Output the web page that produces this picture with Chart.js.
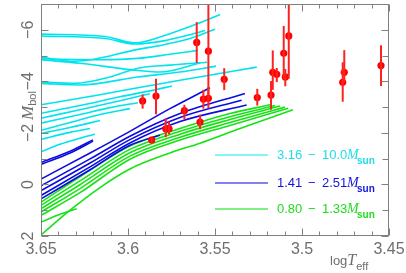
<!DOCTYPE html>
<html>
<head>
<meta charset="utf-8">
<script src="https://cdn.jsdelivr.net/npm/chart.js@4.4.0/dist/chart.umd.min.js"></script>
<style>
  html, body { margin: 0; padding: 0; background: #fff; }
  #wrap { width: 406px; height: 273px; }
</style>
</head>
<body>
<div id="wrap"><canvas id="hr"></canvas></div>
<script>
// axis ticks
const xTicks = [3.65, 3.6, 3.55, 3.5, 3.45];
const xLabels = ['3.65', '3.6', '3.55', '3.5', '3.45'];
const xMinor = [3.64, 3.63, 3.62, 3.61, 3.59, 3.58, 3.57, 3.56, 3.54, 3.53, 3.52, 3.51, 3.49, 3.48, 3.47, 3.46];
const yTicks = [-6, -4, -2, 0, 2];
const yLabels = ['\u22126', '\u22124', '\u22122', '0', '2'];
const yMinor = [-5, -3, -1, 1];

// evolutionary tracks, logTeff and Mbol per track
const cyanT = [
  [3.650, 3.6132, 3.5960, 3.5759, 3.5586, 3.5471],
  [3.650, 3.6132, 3.5960, 3.5787, 3.5644, 3.5557],
  [3.650, 3.6305, 3.5943, 3.5787, 3.5644, 3.5500],
  [3.650, 3.6161, 3.5943, 3.5759, 3.5598],
  [3.650, 3.6276, 3.5943, 3.5816, 3.5586],
  [3.650, 3.6305, 3.6103, 3.5943, 3.5759, 3.5546],
  [3.650, 3.6276, 3.5943, 3.5701, 3.5494],
  [3.650, 3.6161, 3.5943, 3.5701, 3.5260],
  [3.650, 3.6276, 3.6046, 3.5874, 3.5747],
  [3.650, 3.6276, 3.6046, 3.5874],
  [3.650, 3.6276, 3.6103, 3.5943],
  [3.650, 3.6333, 3.6161, 3.5989],
  [3.650, 3.6333, 3.6161],
  [3.650, 3.6333, 3.6218],
  [3.650, 3.6391, 3.6276, 3.6190]
];
const cyanM = [
  [-5.83, -5.74, -5.49, -5.85, -6.27, -6.59],
  [-5.76, -5.66, -5.45, -5.58, -5.81, -5.97],
  [-4.93, -4.78, -5.24, -5.43, -5.66, -6.02],
  [-4.87, -4.84, -4.89, -5.05, -5.20],
  [-4.84, -4.70, -4.42, -4.36, -4.71],
  [-3.97, -3.92, -4.17, -4.51, -4.63, -4.74],
  [-3.92, -3.86, -4.17, -4.36, -4.59],
  [-3.09, -3.48, -3.75, -4.04, -4.55],
  [-2.76, -3.06, -3.40, -3.63, -3.82],
  [-2.57, -2.90, -3.25, -3.52],
  [-2.38, -2.71, -2.98, -3.17],
  [-2.10, -2.40, -2.71, -2.94],
  [-1.98, -2.21, -2.48],
  [-1.75, -2.02, -2.17],
  [-1.27, -1.56, -1.79, -1.95]
];
const blueT = [
  [3.650, 3.6333, 3.6201],
  [3.650, 3.6333, 3.6201],
  [3.650, 3.6218, 3.5989, 3.5759, 3.5529],
  [3.650, 3.6218, 3.5989, 3.5701, 3.5328],
  [3.650, 3.6218, 3.5989, 3.5701, 3.5347],
  [3.650, 3.6218, 3.5989, 3.5701, 3.5318],
  [3.650, 3.6218, 3.5989, 3.5816]
];
const blueM = [
  [-0.85, -1.29, -1.73],
  [-0.78, -1.22, -1.68],
  [-0.21, -1.22, -2.06, -2.94, -3.75],
  [0.05, -0.99, -1.87, -2.75, -3.53],
  [0.24, -0.83, -1.74, -2.60, -3.27],
  [0.43, -0.68, -1.61, -2.44, -3.08],
  [0.56, -0.57, -1.52, -1.91]
];
const greenT = [
  [3.650, 3.6276, 3.5989, 3.5701, 3.5414, 3.5184],
  [3.650, 3.6276, 3.5989, 3.5701, 3.5414, 3.5155],
  [3.650, 3.6276, 3.5989, 3.5701, 3.5414, 3.5126],
  [3.650, 3.6276, 3.5989, 3.5701, 3.5414, 3.5098],
  [3.650, 3.6276, 3.5989, 3.5701, 3.5414, 3.5080],
  [3.650, 3.6333, 3.6161, 3.5989, 3.5759, 3.5586, 3.5356, 3.5052],
  [3.650, 3.6391, 3.6295]
];
const greenM = [
  [0.69, -0.30, -1.49, -2.17, -2.75, -3.09],
  [0.81, -0.14, -1.36, -2.06, -2.63, -3.06],
  [0.94, 0.01, -1.23, -1.95, -2.52, -3.04],
  [1.07, 0.16, -1.10, -1.83, -2.40, -3.00],
  [1.20, 0.32, -0.98, -1.72, -2.29, -2.96],
  [1.96, 1.00, 0.12, -0.60, -1.22, -1.60, -2.17, -2.90],
  [1.46, 1.16, 0.94]
];

// observed stars with error bars
const starT = [3.5916, 3.5839, 3.5605, 3.5538, 3.5676, 3.5783, 3.5764, 3.5586, 3.5567, 3.5538, 3.5864,
               3.5447, 3.5257, 3.5178, 3.5168, 3.5145, 3.5105, 3.5096, 3.5076, 3.4766, 3.4757, 3.4546];
const starM = [-3.24, -3.43, -5.51, -5.17, -2.86, -2.16, -2.16, -2.42, -3.31, -3.34, -1.72,
               -4.08, -3.37, -3.47, -4.35, -4.27, -5.09, -4.17, -5.76, -3.96, -4.35, -4.61];
const errTop = [-3.49, -4.10, -6.30, -7.5, -3.09, -2.56, -2.44, -2.71, -3.67, -3.78, -1.80,
                -4.51, -3.71, -4.01, -5.20, -4.52, -6.15, -4.48, -7.5, -4.74, -5.21, -5.40];
const errBottom = [-2.94, -2.72, -4.71, -3.40, -2.52, -1.83, -1.94, -2.14, -2.94, -2.95, -1.63,
                   -3.66, -3.06, -2.90, -3.67, -3.97, -4.10, -3.81, -4.10, -3.21, -3.97, -3.82];

// legend
const legendLo = ['3.16', '1.41', '0.80'];
const legendHi = ['10.0', '2.51', '1.33'];

const trackColors = ['#00e4ee', '#0b0be2', '#16e216'];
const legendLineColors = ['#5cf0f4', '#5a5ae8', '#5ae85a'];
const legendTextColors = ['#20dce8', '#1414dc', '#20dc20'];

const datasets = [{
  type: 'scatter',
  data: starT.map((t, i) => ({ x: t, y: starM[i] })),
  backgroundColor: '#ff0000',
  borderWidth: 0,
  pointRadius: 3.6,
  order: 0
}];

[[cyanT, cyanM], [blueT, blueM], [greenT, greenM]].forEach(([T, M], c) => {
  T.forEach((tr, k) => {
    datasets.push({
      type: 'line',
      data: tr.map((t, i) => ({ x: t, y: M[k][i] })),
      borderColor: trackColors[c],
      borderWidth: 1.6,
      pointRadius: 0,
      fill: false,
      cubicInterpolationMode: 'monotone',
      order: 1
    });
  });
});

const decor = {
  id: 'decor',
  afterDatasetsDraw(chart) {
    const { ctx, chartArea: a, scales: { x, y } } = chart;
    ctx.save();
    ctx.beginPath();
    ctx.rect(a.left, a.top, a.right - a.left, a.bottom - a.top);
    ctx.clip();
    ctx.strokeStyle = '#ff2020';
    ctx.lineWidth = 2;
    starT.forEach((t, i) => {
      const px = x.getPixelForValue(t);
      ctx.beginPath();
      ctx.moveTo(px, y.getPixelForValue(errTop[i]));
      ctx.lineTo(px, y.getPixelForValue(errBottom[i]));
      ctx.stroke();
    });
    ctx.restore();
  },
  afterDraw(chart) {
    const { ctx, chartArea: a, scales: { x, y } } = chart;
    ctx.save();

    // frame and inward ticks
    ctx.strokeStyle = '#808080';
    ctx.lineWidth = 1;
    const L = Math.round(a.left) + 0.5, R = Math.round(a.right) - 0.5;
    const T = Math.round(a.top) + 0.5, B = Math.round(a.bottom) - 0.5;
    ctx.strokeRect(L, T, R - L, B - T);
    const seg = (x1, y1, x2, y2) => { ctx.beginPath(); ctx.moveTo(x1, y1); ctx.lineTo(x2, y2); ctx.stroke(); };
    xTicks.forEach(v => { const p = Math.round(x.getPixelForValue(v)) + 0.5; seg(p, B, p, B - 7); seg(p, T, p, T + 7); });
    xMinor.forEach(v => { const p = Math.round(x.getPixelForValue(v)) + 0.5; seg(p, B, p, B - 4); seg(p, T, p, T + 4); });
    yTicks.forEach(v => { const p = Math.round(y.getPixelForValue(v)) + 0.5; seg(L, p, L + 7, p); seg(R, p, R - 7, p); });
    yMinor.forEach(v => { const p = Math.round(y.getPixelForValue(v)) + 0.5; seg(L, p, L + 6, p); seg(R, p, R - 6, p); });

    // tick labels
    ctx.fillStyle = '#6e6e6e';
    ctx.font = '16px "Liberation Sans", Arial, sans-serif';
    ctx.textAlign = 'center';
    ctx.textBaseline = 'alphabetic';
    xTicks.forEach((v, i) => ctx.fillText(xLabels[i], x.getPixelForValue(v), 254));
    yTicks.forEach((v, i) => {
      ctx.save();
      ctx.translate(33, y.getPixelForValue(v));
      ctx.rotate(-Math.PI / 2);
      ctx.fillText(yLabels[i], 0, 0);
      ctx.restore();
    });

    // axis titles
    ctx.textAlign = 'left';
    ctx.font = '13px "Liberation Sans", Arial, sans-serif';
    ctx.fillText('log', 330, 265);
    let w = ctx.measureText('log').width;
    ctx.font = 'italic 16px "Liberation Serif", serif';
    ctx.fillText('T', 330 + w, 265);
    w += ctx.measureText('T').width;
    ctx.font = '11px "Liberation Sans", Arial, sans-serif';
    ctx.fillText('eff', 330 + w, 270);

    ctx.save();
    ctx.translate(33, 120);
    ctx.rotate(-Math.PI / 2);
    ctx.font = 'italic 17px "Liberation Serif", serif';
    ctx.fillText('M', 0, 0);
    w = ctx.measureText('M').width;
    ctx.font = '11px "Liberation Sans", Arial, sans-serif';
    ctx.fillText('bol', w, 3);
    ctx.restore();

    // legend
    const rows = [155, 183, 209];
    rows.forEach((ry, i) => {
      ctx.strokeStyle = legendLineColors[i];
      ctx.lineWidth = 1.6;
      seg(215, ry, 268, ry);
      ctx.fillStyle = legendTextColors[i];
      ctx.font = '13px "Liberation Sans", Arial, sans-serif';
      ctx.fillText(legendLo[i], 277, ry + 4);
      ctx.fillText('\u2212', 308, ry + 4);
      ctx.fillText(legendHi[i], 322, ry + 4);
      ctx.font = 'italic 14px "Liberation Serif", serif';
      ctx.fillText('M', 347, ry + 4);
      ctx.font = 'bold 10px "Liberation Sans", Arial, sans-serif';
      ctx.fillText('sun', 357, ry + 9);
    });

    ctx.restore();
  }
};

new Chart(document.getElementById('hr'), {
  type: 'scatter',
  data: { datasets },
  options: {
    responsive: true,
    maintainAspectRatio: false,
    animation: false,
    layout: { padding: { top: 1, right: 17, left: 0, bottom: 0 } },
    plugins: { legend: { display: false }, tooltip: { enabled: false } },
    scales: {
      x: {
        type: 'linear', reverse: true, min: 3.45, max: 3.65,
        grid: { display: false }, border: { display: false }, ticks: { display: false },
        afterFit(s) { s.height = 37; }
      },
      y: {
        type: 'linear', reverse: true, min: -7, max: 2,
        grid: { display: false }, border: { display: false }, ticks: { display: false },
        afterFit(s) { s.width = 41; }
      }
    }
  },
  plugins: [decor]
});
</script>
</body>
</html>
